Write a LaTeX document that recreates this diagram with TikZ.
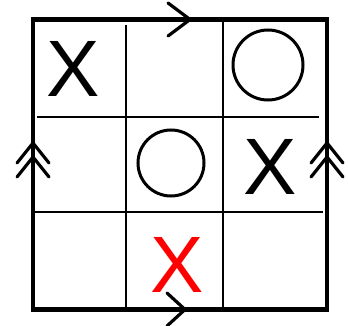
\documentclass[tikz,border=0pt]{standalone}
\usepackage{fontspec}
\setmainfont{Liberation Sans}
\tikzset{
  outer/.style={line width=4.2pt, line cap=rect},
  inner/.style={line width=2.8pt},
  chev/.style={line width=3.2pt, line cap=round, line join=miter},
  xmark/.style={inner sep=0pt, font=\fontsize{80}{80}\selectfont},
  ring/.style={circle, draw, line width=3pt, inner sep=0pt},
}
\begin{document}
\begin{tikzpicture}[x=1pt,y=-1pt]
\useasboundingbox (0,0) rectangle (348,326);
% grid
\draw[outer] (33,19.5) rectangle (327,309.5);
\draw[inner] (126,25) -- (126,309.5);
\draw[inner] (223,19.5) -- (223,309.5);
\draw[inner] (37,117) -- (319,117);
\draw[inner] (35,212) -- (323,212);
% arrows
\draw[chev] (168,3) -- (190,19.5) -- (168,36);
\draw[chev] (167,293) -- (185,309.5) -- (167,326);
\foreach \y in {143,157}{
  \draw[chev] (17,\y+20) -- (33,\y) -- (49,\y+20);
  \draw[chev] (311,\y+20) -- (327,\y) -- (343,\y+20);
}
% marks
\node[xmark] (x1) at (73.5,69) {X};
\node[xmark] (x2) at (270,166.5) {X};
\node[xmark, text=red] (x3) at (177.5,265) {X};
\node[ring, minimum size=70pt] (o1) at (268,65) {};
\node[ring, minimum size=66pt] (o2) at (171,163) {};
\end{tikzpicture}
\end{document}
